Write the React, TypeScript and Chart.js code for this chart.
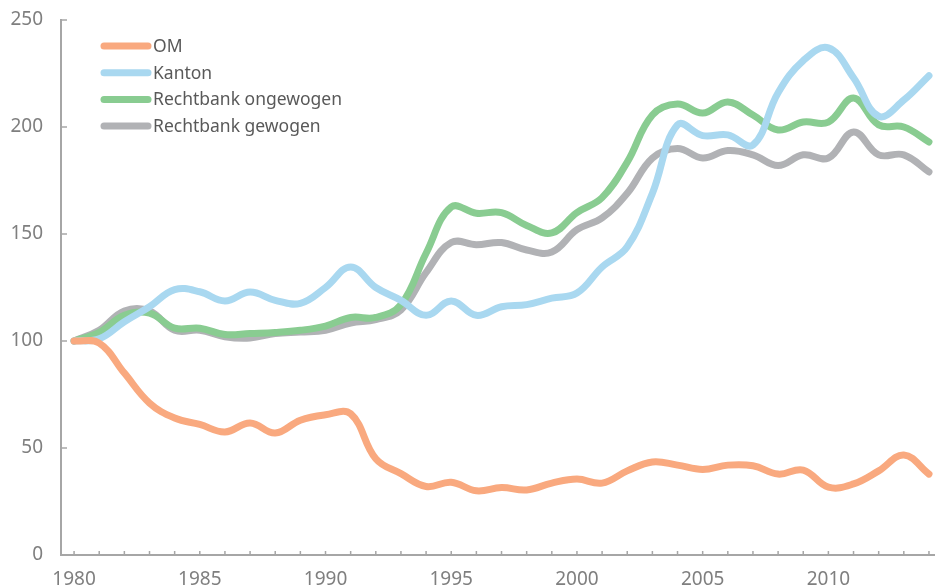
import React, { useEffect, useRef } from "react";
import { Chart, registerables } from "chart.js";

Chart.register(...registerables);

const years = [
  1980, 1981, 1982, 1983, 1984, 1985, 1986, 1987, 1988, 1989,
  1990, 1991, 1992, 1993, 1994, 1995, 1996, 1997, 1998, 1999,
  2000, 2001, 2002, 2003, 2004, 2005, 2006, 2007, 2008, 2009,
  2010, 2011, 2012, 2013, 2014,
];

const seriesNames = ["OM", "Kanton", "Rechtbank ongewogen", "Rechtbank gewogen"];

const om = [
  100, 99, 85, 71, 64, 61, 57.5, 61.7, 57, 63,
  65.5, 66, 45, 38, 32, 34, 30, 31.5, 30.4, 33.6,
  35.5, 33.6, 39.3, 43.5, 42, 40, 42, 41.7, 37.8, 39.7,
  31.7, 33.2, 39.3, 46.7, 37.8,
];

const kanton = [
  100, 101, 109, 116, 124, 123, 118.7, 122.9, 119, 117.6,
  125, 134.6, 125, 119, 112, 118.7, 112, 116, 117, 120,
  122.4, 134.6, 144, 169, 201, 196, 196.3, 191.6, 216, 231,
  237, 223, 205, 212.6, 224,
];

const rbOngewogen = [
  100, 104, 112, 113, 106, 106, 103, 103.5, 104, 105,
  107, 111, 111, 117, 141, 162.6, 159.7, 160, 154, 150.5,
  160, 167, 183.6, 205.6, 210.7, 206.5, 211.7, 205.6, 198.6, 202.3,
  202.3, 213.5, 201, 200, 193,
];

const rbGewogen = [
  100, 105, 114, 114, 105, 105, 102, 101.4, 103.5, 104.2,
  105, 108.4, 110, 114.5, 132, 146, 145, 146, 142.5, 141.6,
  152, 157.5, 169, 185.5, 190, 185.5, 189, 187, 182, 187,
  185.5, 197.7, 187, 187, 179,
];

const xTickLabels = [1980, 1985, 1990, 1995, 2000, 2005, 2010];
const yTickValues = [0, 50, 100, 150, 200, 250];

const colors = ["#F9A97F", "#A9D8F0", "#89CC91", "#B1B2B5"];
const FONT = "'Noto Sans', 'Open Sans', sans-serif";

const innerTicks = {
  id: "innerTicks",
  afterDraw(chart: any) {
    const { ctx, chartArea, scales } = chart;
    ctx.save();
    ctx.strokeStyle = "#A6A6A6";
    ctx.lineWidth = 1.5;
    ctx.beginPath();
    for (const yv of years) {
      const px = scales.x.getPixelForValue(yv);
      ctx.moveTo(px, chartArea.bottom);
      ctx.lineTo(px, chartArea.bottom - 4);
    }
    for (const v of yTickValues) {
      const py = scales.y.getPixelForValue(v);
      ctx.moveTo(chartArea.left, py);
      ctx.lineTo(chartArea.left + 6, py);
    }
    ctx.stroke();
    ctx.restore();
  },
};

const customLegend = {
  id: "customLegend",
  afterDraw(chart: any) {
    const { ctx } = chart;
    ctx.save();
    chart.data.datasets.forEach((ds: any, i: number) => {
      const y = 46 + i * 26.7;
      ctx.strokeStyle = ds.borderColor;
      ctx.lineWidth = 7;
      ctx.lineCap = "round";
      ctx.beginPath();
      ctx.moveTo(104, y);
      ctx.lineTo(148, y);
      ctx.stroke();
      ctx.fillStyle = "#595959";
      ctx.font = `17.5px ${FONT}`;
      ctx.textBaseline = "middle";
      ctx.textAlign = "left";
      ctx.fillText(ds.label, 153, y + 1);
    });
    ctx.restore();
  },
};

export default function App() {
  const ref = useRef<HTMLCanvasElement | null>(null);

  useEffect(() => {
    if (!ref.current) return;
    const allSeries = [om, kanton, rbOngewogen, rbGewogen];
    const chart = new Chart(ref.current, {
      type: "line",
      data: {
        datasets: allSeries.map((s, i) => ({
          label: seriesNames[i],
          data: years.map((yr, j) => ({ x: yr, y: s[j] })),
          borderColor: colors[i],
          backgroundColor: colors[i],
          borderWidth: 7,
          pointRadius: 0,
          tension: 0.4,
          borderCapStyle: "round",
          borderJoinStyle: "round",
          fill: false,
          clip: false,
        })),
      },
      options: {
        responsive: false,
        animation: false,
        devicePixelRatio: 1,
        layout: { padding: { top: 20, left: 0, right: 0, bottom: 0 } },
        plugins: {
          legend: { display: false },
          title: { display: false },
          tooltip: { enabled: false },
        },
        scales: {
          x: {
            type: "linear",
            min: 1979.48,
            max: 2014.24,
            afterFit: (s: any) => {
              s.height = 33;
              s.paddingLeft = 0;
              s.paddingRight = 0;
            },
            afterBuildTicks: (s: any) => {
              s.ticks = xTickLabels.map((v) => ({ value: v }));
            },
            grid: { display: false, drawTicks: false },
            border: { display: true, color: "#A6A6A6", width: 2 },
            ticks: {
              padding: 13,
              color: "#7F7F7F",
              font: { size: 19, family: FONT },
              maxRotation: 0,
              autoSkip: false,
              callback: (v: any) => String(v),
            },
          },
          y: {
            min: 0,
            max: 250,
            afterFit: (s: any) => {
              s.width = 61;
              s.paddingTop = 0;
              s.paddingBottom = 0;
            },
            afterBuildTicks: (s: any) => {
              s.ticks = yTickValues.map((v) => ({ value: v }));
            },
            grid: { display: false, drawTicks: false },
            border: { display: true, color: "#A6A6A6", width: 2 },
            ticks: {
              padding: 18,
              color: "#7F7F7F",
              font: { size: 19, family: FONT },
              callback: (v: any) => String(v),
            },
          },
        },
      },
      plugins: [innerTicks, customLegend],
    });
    return () => chart.destroy();
  }, []);

  return (
    <div style={{ position: "absolute", left: 0, top: 0, width: 935, height: 588, background: "#fff" }}>
      <canvas ref={ref} width={935} height={588} />
    </div>
  );
}
